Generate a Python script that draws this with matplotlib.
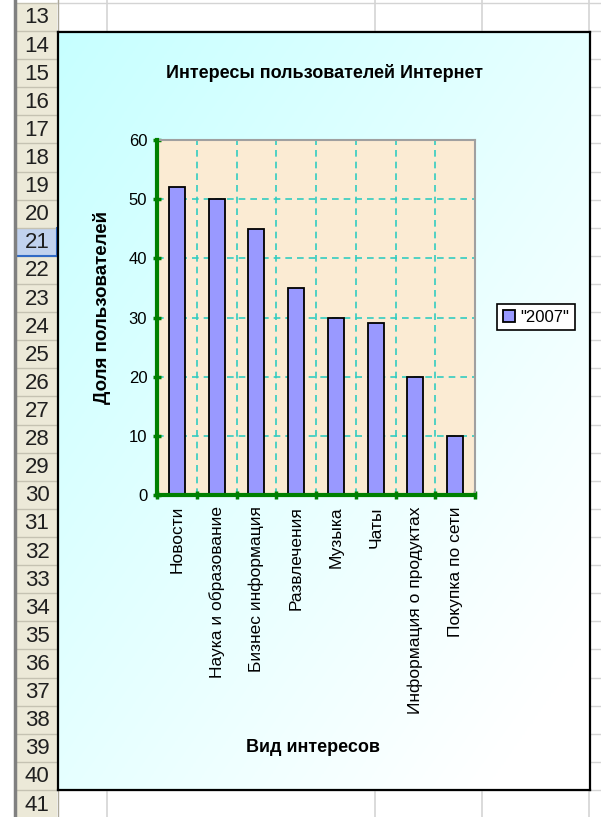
"""Excel-style bar chart: Internet users' interests (2007)."""

import matplotlib

matplotlib.use("Agg")
import matplotlib.pyplot as plt
import numpy as np
from matplotlib.patches import Rectangle

plt.rcParams["font.family"] = ["Liberation Sans", "DejaVu Sans"]

CATEGORIES = [
    "Новости",
    "Наука и образование",
    "Бизнес информация",
    "Развлечения",
    "Музыка",
    "Чаты",
    "Информация о продуктах",
    "Покупка по сети",
]
VALUES_2007 = [52, 50, 45, 35, 30, 29, 20, 10]
SERIES_LABEL = '"2007"'
Y_TICKS = [0, 10, 20, 30, 40, 50, 60]
ROW_NUMBERS = list(range(13, 42))
SELECTED_ROW = 21

W, H = 601, 817
BAR_COLOR = "#9999FF"
GRID_COLOR = "#33CCC0"
AXIS_GREEN = "#008000"
PLOT_BG = "#FBEBD3"
HEADER_BG = "#ECE9D8"

fig = plt.figure(figsize=(W / 100, H / 100), dpi=100)


def px_axes(x0, y0, x1, y1, **kw):
    """Axes placed with pixel coords measured from the top-left corner."""
    return fig.add_axes([x0 / W, 1 - y1 / H, (x1 - x0) / W, (y1 - y0) / H], **kw)


# --- spreadsheet backdrop -------------------------------------------------
sheet = px_axes(0, 0, W, H)
sheet.set_xlim(0, W)
sheet.set_ylim(H, 0)
sheet.axis("off")

row_top0, row_h = 31 - 28.11, 28.11
for i, num in enumerate(ROW_NUMBERS):
    top = row_top0 + i * row_h
    bg = "#C1D2EE" if num == SELECTED_ROW else HEADER_BG
    sheet.add_patch(Rectangle((16, top), 41, row_h, facecolor=bg, edgecolor="none"))
    sheet.plot([16, 57], [top, top], color="#C5C2B2", lw=1)
    sheet.plot([57, W], [top, top], color="#D4D4D4", lw=1)
    sheet.text(37, top + row_h / 2 + 1, str(num), ha="center", va="center",
               fontsize=16, color="#202020",
               family=["Liberation Sans Narrow", "Liberation Sans"])
sel_top = row_top0 + ROW_NUMBERS.index(SELECTED_ROW) * row_h
sheet.plot([16, 57], [sel_top + row_h, sel_top + row_h], color="#316AC5", lw=1.5)
sheet.plot([57, 57], [sel_top, sel_top + row_h], color="#316AC5", lw=1.5)
sheet.plot([15, 15], [0, H], color="#808080", lw=2.5)
sheet.plot([57.5, 57.5], [0, H], color="#ACA899", lw=1)
for x in (107, 375, 482, 589):
    sheet.plot([x, x], [0, H], color="#D4D4D4", lw=1.2)

# --- chart area with diagonal gradient -------------------------------------
chart = px_axes(58, 32, 590, 790)
gy, gx = np.mgrid[0:1:200j, 0:1:200j]
t = np.clip((gx + gy) / 1.8, 0, 1)[..., None]
top_col = np.array([0.78, 1.0, 1.0])
end_col = np.array([1.0, 1.0, 1.0])
chart.imshow(top_col * (1 - t) + end_col * t, extent=[0, 1, 1, 0], aspect="auto")
chart.set_xlim(0, 1)
chart.set_ylim(1, 0)
chart.set_xticks([])
chart.set_yticks([])
for s in chart.spines.values():
    s.set_color("black")
    s.set_linewidth(1.6)

fig.text(324 / W, 1 - 73 / H, "Интересы пользователей Интернет",
         ha="center", va="center", fontsize=13, fontweight="bold")
fig.text(102 / W, 1 - 308 / H, "Доля пользователей", ha="center", va="center",
         rotation=90, fontsize=13.5, fontweight="bold")
fig.text(313 / W, 1 - 748 / H, "Вид интересов", ha="center", va="center",
         fontsize=13, fontweight="bold")

# --- plot area --------------------------------------------------------------
ax = px_axes(157, 140, 475, 495)
ax.set_facecolor(PLOT_BG)
x = np.arange(len(CATEGORIES))
bars = ax.bar(x, VALUES_2007, width=0.4, color=BAR_COLOR, edgecolor="black",
              linewidth=1.3, label=SERIES_LABEL, zorder=3)
ax.set_xlim(-0.5, len(CATEGORIES) - 0.5)
ax.set_ylim(0, 60)
ax.set_yticks(Y_TICKS)
ax.set_xticks(x)
ax.set_xticklabels(CATEGORIES, rotation=90, fontsize=12.5)
ax.set_xticks(np.arange(len(CATEGORIES) + 1) - 0.5, minor=True)
ax.tick_params(axis="x", which="major", length=0, pad=8)
ax.tick_params(axis="x", which="minor", direction="inout", length=6,
               width=2.5, color=AXIS_GREEN)
ax.tick_params(axis="y", direction="inout", length=6, width=2.5,
               color=AXIS_GREEN, labelsize=12, pad=4)
ax.grid(True, axis="y", which="major", color=GRID_COLOR, ls=(0, (4, 3)), lw=1.2, zorder=1)
ax.grid(True, axis="x", which="minor", color=GRID_COLOR, ls=(0, (4, 3)), lw=1.2, zorder=1)
for side in ("left", "bottom"):
    ax.spines[side].set_color(AXIS_GREEN)
    ax.spines[side].set_linewidth(3)
    ax.spines[side].set_zorder(4)
for side in ("top", "right"):
    ax.spines[side].set_color("#A0A0A0")
    ax.spines[side].set_linewidth(1.5)

leg = fig.legend(handles=[bars], labels=[SERIES_LABEL], loc="center",
                 bbox_to_anchor=(536 / W, 1 - 317 / H), fontsize=12,
                 fancybox=False, framealpha=1, edgecolor="black",
                 handlelength=0.7, handleheight=0.7, handletextpad=0.3,
                 borderpad=0.35, borderaxespad=0)
leg.get_frame().set_linewidth(1.2)

fig.savefig("out.png", dpi=100)
